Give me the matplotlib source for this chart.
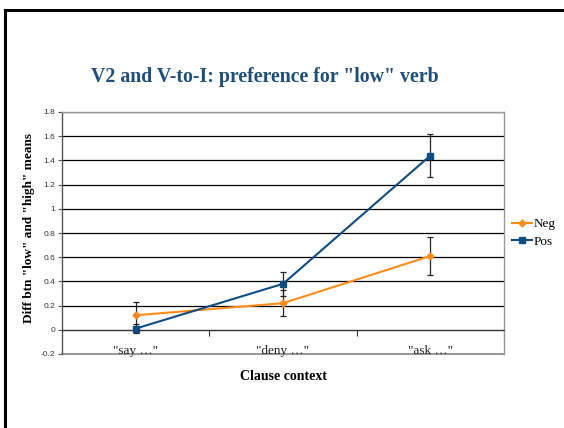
import matplotlib
matplotlib.use("Agg")
import matplotlib.pyplot as plt
from matplotlib.lines import Line2D

categories = ['"say …"', '"deny …"', '"ask …"']
neg_values = [0.12, 0.22, 0.61]
neg_errors = [0.11, 0.11, 0.16]
pos_values = [0.01, 0.38, 1.44]
pos_errors = [0.04, 0.10, 0.175]
series_names = ["Neg", "Pos"]
y_ticks = [-0.2, 0, 0.2, 0.4, 0.6, 0.8, 1, 1.2, 1.4, 1.6, 1.8]
y_tick_labels = ["-0.2", "0", "0.2", "0.4", "0.6", "0.8", "1", "1.2", "1.4", "1.6", "1.8"]

neg_color = "#FF8C1A"
pos_color = "#0F4C81"
serif = ["Liberation Serif", "DejaVu Serif"]
sans = ["Liberation Sans", "DejaVu Sans"]

fig = plt.figure(figsize=(5.64, 4.28), dpi=100)

# outer frame (top and left edges visible)
fig.add_artist(Line2D([5/564, 5/564], [0, 1 - 10/428], transform=fig.transFigure,
                      color="black", lw=2.2))
fig.add_artist(Line2D([5/564, 1], [1 - 10/428, 1 - 10/428], transform=fig.transFigure,
                      color="black", lw=2.2))

ax = fig.add_axes([62/564, 1 - 354/428, 442/564, 242/428])
x = list(range(len(categories)))

ax.set_xlim(-0.5, len(categories) - 0.5)
ax.set_ylim(-0.2, 1.8)

ax.set_yticks(y_ticks)
ax.set_yticklabels(y_tick_labels, fontfamily=sans, fontsize=6, color="#333333")
ax.yaxis.grid(True, color="black", lw=0.9)
ax.set_axisbelow(True)
ax.tick_params(axis="y", direction="out", length=3, width=0.8, color="#555555", pad=2)

ax.set_xticks([i + 0.5 for i in x])
ax.set_xticklabels([])
ax.tick_params(axis="x", direction="out", length=4, width=0.8, color="#333333")

for s in ["top", "right"]:
    ax.spines[s].set_color("#999999")
    ax.spines[s].set_linewidth(1.0)
ax.spines["bottom"].set_position(("data", 0))
ax.spines["bottom"].set_color("#333333")
ax.spines["left"].set_color("#555555")
ax.spines["left"].set_linewidth(1.0)
# bottom border of plot area
ax.axhline(ax.get_ylim()[0], color="#999999", lw=1.5, clip_on=False)

ax.errorbar(x, neg_values, yerr=neg_errors, color=neg_color, marker="D", markersize=3.5,
            lw=1.5, ecolor="#222222", elinewidth=0.9, capsize=2.5, capthick=0.9,
            label=series_names[0], zorder=3)
ax.errorbar(x, pos_values, yerr=pos_errors, color=pos_color, marker="s", markersize=4.5,
            lw=1.5, ecolor="#222222", elinewidth=0.9, capsize=2.5, capthick=0.9,
            label=series_names[1], zorder=4)

for i, c in enumerate(categories):
    ax.text(i, -0.175, c, ha="center", va="center", fontfamily=serif, fontsize=9.5,
            color="#222222")

ax.set_xlabel("Clause context", fontfamily=serif, fontsize=10, fontweight="bold")
ax.xaxis.set_label_coords(0.50, -0.065)

fig.text(29/564, 1 - 228/428, 'Diff btn "low" and "high" means', rotation=90,
         ha="center", va="center", fontfamily=serif, fontsize=9.5, fontweight="bold")

fig.text(265/564, 1 - 77/428, 'V2 and V-to-I: preference for "low" verb',
         ha="center", va="center", fontfamily=serif, fontsize=14.3, fontweight="bold",
         color="#1F4E79")

handles = [Line2D([], [], color=neg_color, marker="D", markersize=3.5, lw=1.5),
           Line2D([], [], color=pos_color, marker="s", markersize=4.5, lw=1.5)]
fig.legend(handles, series_names, loc="center left", bbox_to_anchor=(512/564, 1 - 233/428),
           frameon=False, prop={"family": serif, "size": 9.5}, handlelength=1.5,
           handletextpad=0.15, labelspacing=0.4, borderpad=0, borderaxespad=0)

fig.savefig("out.png", dpi=100)
